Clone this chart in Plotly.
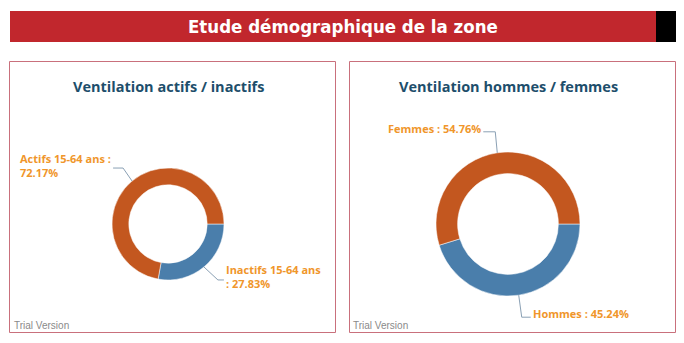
import math
import plotly.graph_objects as go

W, H = 684, 343

# ---- data ----
header_title = "Etude démographique de la zone"
left_title = "Ventilation actifs / inactifs"
left_labels = ["Inactifs 15-64 ans", "Actifs 15-64 ans"]
left_values = [27.83, 72.17]
right_title = "Ventilation hommes / femmes"
right_labels = ["Hommes", "Femmes"]
right_values = [45.24, 54.76]
watermark = "Trial Version"

BLUE = "#4a7eab"
ORANGE = "#c3571f"
LABEL_COLOR = "#f0962b"
TITLE_COLOR = "#1d4e6b"
BORDER = "#c9707c"
HEADER_RED = "#c1272d"


def px(x):
    return x / W


def py(y):
    return 1 - y / H


# donut geometry (pixels): center x, center y, outer radius
LEFT = (168, 224, 56)
RIGHT = (508, 224, 72)


def dom(c):
    cx, cy, r = c
    return dict(x=[px(cx - r), px(cx + r)], y=[py(cy + r), py(cy - r)])


fig = go.Figure()
for labels, values, geo in [(left_labels, left_values, LEFT), (right_labels, right_values, RIGHT)]:
    fig.add_trace(go.Pie(
        labels=labels, values=values, hole=0.7, sort=False,
        direction="clockwise", rotation=90, textinfo="none",
        marker=dict(colors=[BLUE, ORANGE], line=dict(color="white", width=0.5)),
        domain=dom(geo), showlegend=False, hoverinfo="label+percent",
    ))


def mid_point(values, i, geo):
    cx, cy, r = geo
    tot = sum(values)
    start = 90 + 360 * sum(values[:i]) / tot
    mid = start + 180 * values[i] / tot
    a = math.radians(mid)
    return cx + r * math.sin(a), cy - r * math.cos(a)


shapes = []
annotations = []

# header
shapes.append(dict(type="rect", xref="paper", yref="paper", x0=px(10), x1=px(656), y0=py(42), y1=py(11),
                   fillcolor=HEADER_RED, line=dict(width=0), layer="below"))
shapes.append(dict(type="rect", xref="paper", yref="paper", x0=px(656), x1=px(676), y0=py(42), y1=py(11),
                   fillcolor="#000000", line=dict(width=0), layer="below"))
annotations.append(dict(text="<b>" + header_title + "</b>", x=px(343), y=py(27), xref="paper", yref="paper",
                        showarrow=False, xanchor="center", yanchor="middle",
                        font=dict(family="DejaVu Sans Condensed, sans-serif", size=18.5, color="white")))

# panels
for x0, x1, title, tx in [(9.5, 335.5, left_title, 168), (349.5, 675.5, right_title, 508)]:
    shapes.append(dict(type="rect", xref="paper", yref="paper", x0=px(x0), x1=px(x1), y0=py(332.5), y1=py(61.5),
                       line=dict(color=BORDER, width=1), fillcolor="rgba(0,0,0,0)", layer="below"))
    annotations.append(dict(text="<b>" + title + "</b>", x=px(tx), y=py(86), xref="paper", yref="paper",
                            showarrow=False, xanchor="center", yanchor="middle",
                            font=dict(family="Open Sans, sans-serif", size=14.5, color=TITLE_COLOR)))
    annotations.append(dict(text=watermark, x=px(x0 + 2), y=py(325), xref="paper", yref="paper",
                            showarrow=False, xanchor="left", yanchor="middle",
                            font=dict(family="Liberation Sans, Arial, sans-serif", size=10, color="#8a8a8a")))

LABEL_FONT = dict(family="Open Sans, sans-serif", size=11, color=LABEL_COLOR)


def leader(p0, elbow, end):
    path = "M {} {} L {} {} L {} {}".format(px(p0[0]), py(p0[1]), px(elbow[0]), py(elbow[1]), px(end[0]), py(end[1]))
    shapes.append(dict(type="path", xref="paper", yref="paper", path=path,
                       line=dict(color="#8aa0b4", width=1)))


def label(text, x, y, anchor):
    annotations.append(dict(text=text, x=px(x), y=py(y), xref="paper", yref="paper", showarrow=False,
                            xanchor=anchor, yanchor="middle", align="left", font=LABEL_FONT))


def pct(v):
    return "{:.2f}%".format(v)


# left: Inactifs (blue)
p = mid_point(left_values, 0, LEFT)
leader(p, (p[0] + 14, p[1] + 13), (p[0] + 20, p[1] + 13))
label("<b>" + left_labels[0] + "<br>: " + pct(left_values[0]) + "</b>", p[0] + 20, p[1] + 10, "left")
# left: Actifs (orange)
p = mid_point(left_values, 1, LEFT)
leader(p, (p[0] - 9, p[1] - 13), (p[0] - 19, p[1] - 13))
label("<b>" + left_labels[1] + " :<br>" + pct(left_values[1]) + "</b>", p[0] - 19, p[1] - 16, "right")
# right: Hommes (blue)
p = mid_point(right_values, 0, RIGHT)
leader(p, (p[0] + 3, p[1] + 22), (p[0] + 12, p[1] + 22))
label("<b>" + right_labels[0] + " : " + pct(right_values[0]) + "</b>", p[0] + 12, p[1] + 18, "left")
# right: Femmes (orange)
p = mid_point(right_values, 1, RIGHT)
leader(p, (p[0] - 2, p[1] - 21), (p[0] - 14, p[1] - 21))
label("<b>" + right_labels[1] + " : " + pct(right_values[1]) + "</b>", p[0] - 14, p[1] - 24, "right")

fig.update_layout(width=W, height=H, margin=dict(l=0, r=0, t=0, b=0),
                  paper_bgcolor="white", plot_bgcolor="white",
                  shapes=shapes, annotations=annotations)
fig.write_html("out.html")
